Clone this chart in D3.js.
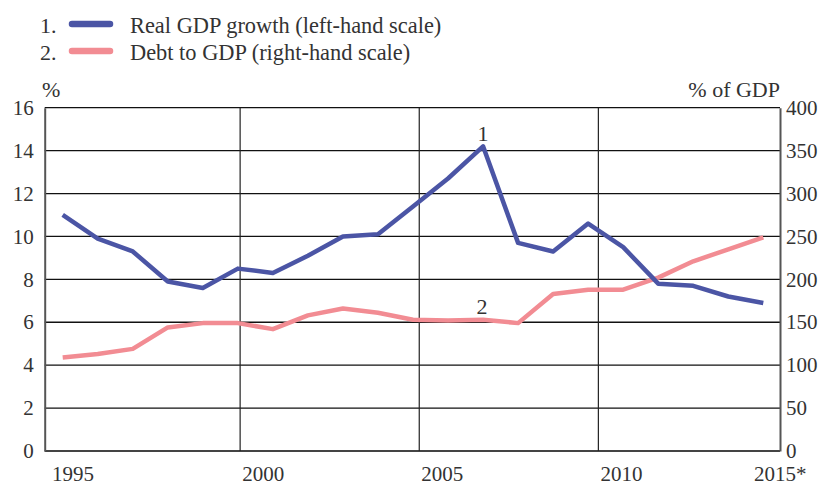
<!DOCTYPE html>
<html>
<head>
<meta charset="utf-8">
<script src="https://cdn.jsdelivr.net/npm/d3@7"></script>
<style>
  body { margin: 0; background: #fff; }
  svg text { font-family: 'Liberation Serif', 'Times New Roman', serif; fill: #333; }
</style>
</head>
<body>
<div class="chart"></div>
<script>
var years = [1995, 1996, 1997, 1998, 1999, 2000, 2001, 2002, 2003, 2004, 2005,
  2006, 2007, 2008, 2009, 2010, 2011, 2012, 2013, 2014, 2015]
// real GDP growth, % (left-hand scale)
var gdpGrowth = [11.0, 9.9, 9.3, 7.9, 7.6, 8.5, 8.3, 9.1, 10.0, 10.1, 11.4,
  12.7, 14.2, 9.7, 9.3, 10.6, 9.5, 7.8, 7.7, 7.2, 6.9]
// debt to GDP, % of GDP (right-hand scale)
var debtToGdp = [109, 113, 119, 144, 149, 149, 142, 158, 166, 161, 153,
  152, 153, 149, 183, 188, 188, 202, 221, 235, 249]
var leftTicks = [0, 2, 4, 6, 8, 10, 12, 14, 16]
var rightTicks = [0, 50, 100, 150, 200, 250, 300, 350, 400]
var gridYears = [2000, 2005, 2010]
var labelYears = [1995, 2000, 2005, 2010, 2015]
var labelText = ['1995', '2000', '2005', '2010', '2015*']
var seriesNames = ['Real GDP growth (left-hand scale)', 'Debt to GDP (right-hand scale)']

var width = 821
var height = 486
var plotLeft = 44.7
var plotRight = 780
var plotTop = 107.7
var plotBottom = 451
var colors = ['#4b55a5', '#f28c93']

var svg = d3.select('.chart')
  .append('svg')
  .attr('width', width)
  .attr('height', height)

var x = d3.scalePoint().domain(years).range([62.7, 763.3])
var xGrid = d3.scaleLinear().domain([1995, 2015]).range([61, 777.5])
var yL = d3.scaleLinear().domain([0, 16]).range([plotBottom, plotTop])
var yR = d3.scaleLinear().domain([0, 400]).range([plotBottom, plotTop])

// horizontal grid
svg.append('g')
  .selectAll('line')
  .data(leftTicks)
  .enter()
  .append('line')
  .attr('x1', plotLeft)
  .attr('x2', plotRight)
  .attr('y1', function (d) { return yL(d) })
  .attr('y2', function (d) { return yL(d) })
  .attr('stroke', function (d) { return d === 0 ? '#444' : '#111' })
  .attr('stroke-width', function (d) { return d === 0 ? 2 : 1.3 })

// vertical grid
svg.append('g')
  .selectAll('line')
  .data(gridYears)
  .enter()
  .append('line')
  .attr('x1', function (d) { return xGrid(d) })
  .attr('x2', function (d) { return xGrid(d) })
  .attr('y1', plotTop)
  .attr('y2', plotBottom)
  .attr('stroke', '#222')
  .attr('stroke-width', 1.2)

// left axis
var axL = svg.append('g')
  .attr('transform', 'translate(' + plotLeft + ',0)')
  .call(d3.axisLeft(yL).tickValues(leftTicks).tickSize(0).tickPadding(11))
axL.select('.domain').attr('stroke', '#555').attr('stroke-width', 2)
axL.selectAll('text').style('font-size', '21px').attr('fill', '#444')
  .style('font-family', "'Liberation Serif', serif")

// right axis
var axR = svg.append('g')
  .attr('transform', 'translate(' + plotRight + ',0)')
  .call(d3.axisRight(yR).tickValues(rightTicks).tickSize(0).tickPadding(6))
axR.select('.domain').attr('stroke', '#555').attr('stroke-width', 2)
axR.selectAll('text').style('font-size', '21px').attr('fill', '#444')
  .style('font-family', "'Liberation Serif', serif")

// x labels
svg.append('g')
  .selectAll('text')
  .data(labelYears)
  .enter()
  .append('text')
  .attr('x', function (d, i) {
    if (i === 0) return xGrid(d) - 9
    if (i === labelYears.length - 1) return xGrid(d) + 29
    return xGrid(d) + 2
  })
  .attr('y', 481)
  .attr('text-anchor', function (d, i) { return i === labelYears.length - 1 ? 'end' : 'start' })
  .style('font-size', '21px')
  .text(function (d, i) { return labelText[i] })

// unit labels
svg.append('text')
  .attr('x', 42)
  .attr('y', 97)
  .style('font-size', '22px')
  .text('%')
svg.append('text')
  .attr('x', plotRight)
  .attr('y', 97)
  .attr('text-anchor', 'end')
  .style('font-size', '22px')
  .text('% of GDP')

// series lines
var lineL = d3.line()
  .x(function (d, i) { return x(years[i]) })
  .y(function (d) { return yL(d) })
var lineR = d3.line()
  .x(function (d, i) { return x(years[i]) })
  .y(function (d) { return yR(d) })

svg.append('path')
  .datum(debtToGdp)
  .attr('d', lineR)
  .attr('fill', 'none')
  .attr('stroke', colors[1])
  .attr('stroke-width', 4.5)
  .attr('stroke-linejoin', 'round')

svg.append('path')
  .datum(gdpGrowth)
  .attr('d', lineL)
  .attr('fill', 'none')
  .attr('stroke', colors[0])
  .attr('stroke-width', 4.5)
  .attr('stroke-linejoin', 'round')

// series numbers on the lines
svg.append('text')
  .attr('x', x(2007))
  .attr('y', yL(gdpGrowth[12]) - 5)
  .attr('text-anchor', 'middle')
  .style('font-size', '22px')
  .text('1')
svg.append('text')
  .attr('x', x(2007) - 1)
  .attr('y', yR(debtToGdp[12]) - 6)
  .attr('text-anchor', 'middle')
  .style('font-size', '22px')
  .text('2')

// legend
var legend = svg.append('g')
  .selectAll('g')
  .data(seriesNames)
  .enter()
  .append('g')
  .attr('transform', function (d, i) { return 'translate(0,' + (24 + i * 27) + ')' })

legend.append('text')
  .attr('x', 40)
  .attr('y', 9)
  .style('font-size', '22px')
  .text(function (d, i) { return (i + 1) + '.' })
legend.append('line')
  .attr('x1', 72)
  .attr('x2', 110)
  .attr('stroke', function (d, i) { return colors[i] })
  .attr('stroke-width', 6.5)
  .attr('stroke-linecap', 'round')
legend.append('text')
  .attr('x', 130)
  .attr('y', 9)
  .style('font-size', '22.4px')
  .text(function (d) { return d })
</script>
</body>
</html>
